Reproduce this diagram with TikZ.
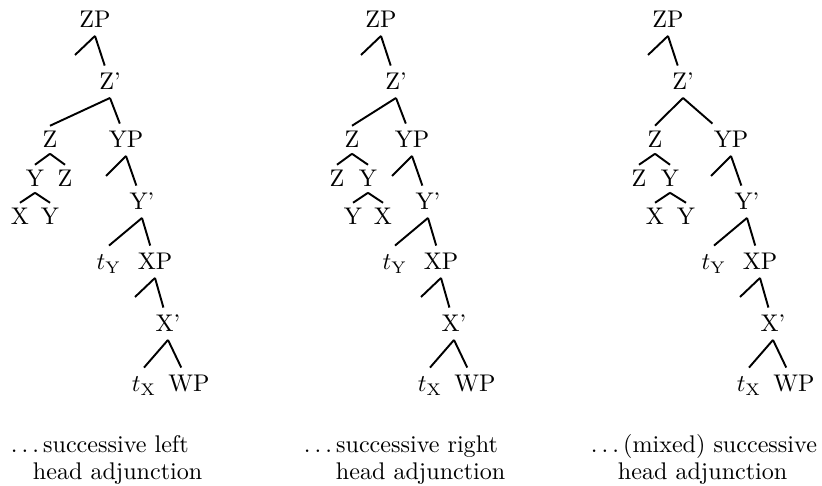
\documentclass[tikz,border=0pt]{standalone}

\newcommand{\spdots}{.\kern1.67pt.\kern1.67pt.\kern1.67pt}

\begin{document}
\begin{tikzpicture}[x=0.415pt, y=-0.415pt, line width=0.8pt,
    cat/.style={anchor=base, inner xsep=1pt, inner ysep=2.9pt, text height=6.83pt, text depth=0pt},
    head/.style={cat, inner ysep=2pt},
    caption/.style={anchor=base west, inner sep=0pt}]
    \useasboundingbox (0,0) rectangle (822,486);
    % the spine that all three trees share
    \foreach \t/\dx/\zx/\lx in {a/0/50/0, b/286/352/286, c/573/655/605} {
        \node[cat] (\t zp) at (95+\dx,28) {ZP};
        \node[cat] (\t zb) at (110+\dx,90) {Z'};
        \node[head] (\t z) at (\zx,148) {Z};
        \node[cat] (\t yp) at (126+\lx,148) {YP};
        \node[cat] (\t yb) at (142+\lx,210) {Y'};
        \node[cat] (\t ty) at (109+\lx,270) {$t_{\mathrm{Y}}$};
        \node[cat] (\t xp) at (155+\lx,270) {XP};
        \node[cat] (\t xb) at (168+\lx,332) {X'};
        \node[cat] (\t tx) at (144+\lx,392) {$t_{\mathrm{X}}$};
        \node[cat] (\t wp) at (189+\lx,392) {WP};
        \coordinate (\t s1) at (75+\dx,55);
        \coordinate (\t s2) at (106+\lx,176);
        \coordinate (\t s3) at (135+\lx,297);
        \draw (\t zp.south) -- (\t s1);
        \draw (\t zp.south) -- (\t zb);
        \draw (\t zb.south) -- (\t z.north);
        \draw (\t zb.south) -- (\t yp);
        \draw (\t yp.south) -- (\t s2);
        \draw (\t yp.south) -- (\t yb);
        \draw (\t yb.south) -- (\t ty.north);
        \draw (\t yb.south) -- (\t xp);
        \draw (\t xp.south) -- (\t s3);
        \draw (\t xp.south) -- (\t xb);
        \draw (\t xb.south) -- (\t tx.north);
        \draw (\t xb.south) -- (\t wp);
    }
    % left adjunction
    \node[head] (ay1) at (35,187) {Y};
    \node[head] (az1) at (65,187) {Z};
    \node[head] (ax2) at (20,225) {X};
    \node[head] (ay2) at (50,225) {Y};
    \draw (az.south) -- (ay1.north);
    \draw (az.south) -- (az1.north);
    \draw (ay1.south) -- (ax2.north);
    \draw (ay1.south) -- (ay2.north);
    % right adjunction
    \node[head] (bz1) at (337,187) {Z};
    \node[head] (by1) at (368,187) {Y};
    \node[head] (by2) at (353,225) {Y};
    \node[head] (bx2) at (383,225) {X};
    \draw (bz.south) -- (bz1.north);
    \draw (bz.south) -- (by1.north);
    \draw (by1.south) -- (by2.north);
    \draw (by1.south) -- (bx2.north);
    % mixed
    \node[head] (cz1) at (639,187) {Z};
    \node[head] (cy1) at (670,187) {Y};
    \node[head] (cx2) at (655,225) {X};
    \node[head] (cy2) at (686,225) {Y};
    \draw (cz.south) -- (cz1.north);
    \draw (cz.south) -- (cy1.north);
    \draw (cy1.south) -- (cx2.north);
    \draw (cy1.south) -- (cy2.north);
    % captions
    \node[caption] (cap a1) at (10,453) {\spdots successive left};
    \node[caption] (cap a2) at (32,480) {head adjunction};
    \node[caption] (cap b1) at (303,453) {\spdots successive right};
    \node[caption] (cap b2) at (335,480) {head adjunction};
    \node[caption] (cap c1) at (590,453) {\spdots(mixed) successive};
    \node[caption] (cap c2) at (617,480) {head adjunction};
\end{tikzpicture}
\end{document}
